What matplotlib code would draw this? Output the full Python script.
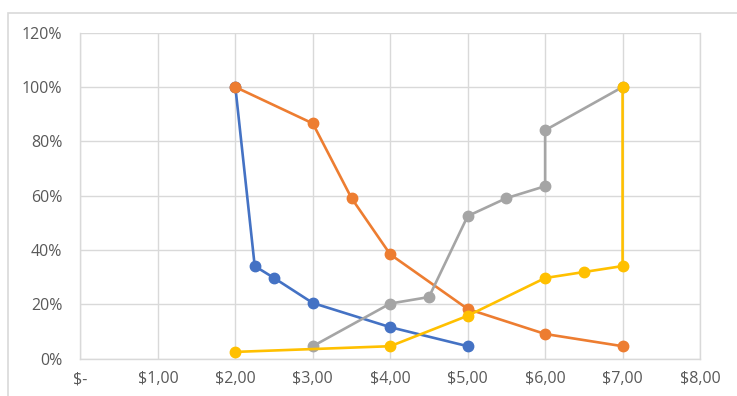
import matplotlib.pyplot as plt
from matplotlib.patches import Rectangle

# series (price in $, share in %)
blue_x = [2.0, 2.25, 2.5, 3.0, 4.0, 5.0]
blue_y = [100, 34.1, 29.7, 20.5, 11.6, 4.6]

orange_x = [2.0, 3.0, 3.5, 4.0, 5.0, 6.0, 7.0]
orange_y = [100, 86.6, 59.1, 38.4, 18.3, 9.1, 4.6]

gray_x = [3.0, 4.0, 4.5, 5.0, 5.5, 6.0, 6.0, 7.0]
gray_y = [4.6, 20.3, 22.7, 52.5, 59.1, 63.5, 84.1, 100]

yellow_x = [2.0, 4.0, 5.0, 6.0, 6.5, 7.0, 7.0]
yellow_y = [2.5, 4.6, 15.8, 29.7, 31.9, 34.1, 100]

x_ticks = [0, 1, 2, 3, 4, 5, 6, 7, 8]
x_labels = ['$-', '$1,00', '$2,00', '$3,00', '$4,00', '$5,00', '$6,00', '$7,00', '$8,00']
y_ticks = [0, 20, 40, 60, 80, 100, 120]
y_labels = ['0%', '20%', '40%', '60%', '80%', '100%', '120%']

BLUE = '#4472C4'
ORANGE = '#ED7D31'
GRAY = '#A5A5A5'
YELLOW = '#FFC000'
GRID = '#D9D9D9'
TEXT = '#595959'

plt.rcParams['font.family'] = ['Open Sans', 'DejaVu Sans']

fig = plt.figure(figsize=(7.37, 3.96), dpi=100)
ax = fig.add_axes([0.1092, 0.0942, 0.8406, 0.8232])

# chart frame, runs off the right and bottom of the crop
fig.patches.append(Rectangle((7.5 / 737, -0.05), 1.2, 1 - 12.5 / 396 + 0.05,
                             transform=fig.transFigure, fill=False,
                             edgecolor=GRID, linewidth=1.2))

for xs, ys, c in [(blue_x, blue_y, BLUE), (orange_x, orange_y, ORANGE),
                  (gray_x, gray_y, GRAY), (yellow_x, yellow_y, YELLOW)]:
    ax.plot(xs, ys, color=c, linewidth=1.9, marker='o', markersize=7.5,
            solid_capstyle='round', zorder=3)

ax.set_xlim(0, 8)
ax.set_ylim(0, 120)
ax.set_xticks(x_ticks)
ax.set_xticklabels(x_labels)
ax.set_yticks(y_ticks)
ax.set_yticklabels(y_labels)

ax.grid(True, color=GRID, linewidth=1.0)
ax.axvline(8, color=GRID, linewidth=1.0, clip_on=False, zorder=0)
ax.set_axisbelow(True)
for side in ['top', 'right']:
    ax.spines[side].set_visible(False)
for side in ['left', 'bottom']:
    ax.spines[side].set_color(GRID)
    ax.spines[side].set_linewidth(1.0)

ax.tick_params(axis='both', length=0, labelsize=11.5, labelcolor=TEXT)
ax.tick_params(axis='y', pad=13)
ax.tick_params(axis='x', pad=9)

fig.savefig('out.png', dpi=100)
